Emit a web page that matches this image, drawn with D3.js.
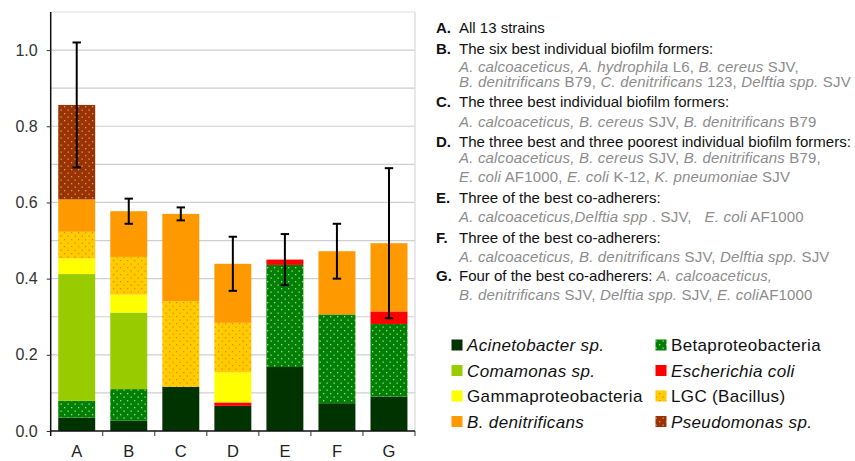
<!DOCTYPE html>
<html>
<head>
<meta charset="utf-8">
<script src="https://cdnjs.cloudflare.com/ajax/libs/d3/7.8.5/d3.min.js"></script>
<style>
  body { margin: 0; background: #fff; }
  svg text { font-family: "Liberation Sans", Arial, sans-serif; white-space: pre; }
</style>
</head>
<body>
<svg id="chart" width="855" height="461"></svg>
<script>
// groups on the x axis
let categories = ["A", "B", "C", "D", "E", "F", "G"];

// stacked segments, bottom to top
let seriesNames = ["Acinetobacter", "Betaproteobacteria", "Comamonas", "Escherichia coli",
    "Gammaproteobacteria", "LGC (Bacillus)", "B. denitrificans", "Pseudomonas"];
let acinetobacter = [0.035, 0.027, 0.116, 0.066, 0.168, 0.073, 0.090];
let betaproteo    = [0.044, 0.083, 0.000, 0.000, 0.268, 0.233, 0.191];
let comamonas     = [0.333, 0.201, 0.000, 0.000, 0.000, 0.000, 0.000];
let ecoli         = [0.000, 0.000, 0.000, 0.009, 0.014, 0.000, 0.033];
let gammaproteo   = [0.041, 0.047, 0.000, 0.079, 0.000, 0.000, 0.000];
let lgc           = [0.070, 0.099, 0.225, 0.130, 0.000, 0.000, 0.000];
let bdenitrif     = [0.085, 0.120, 0.229, 0.155, 0.000, 0.166, 0.179];
let pseudomonas   = [0.248, 0.000, 0.000, 0.000, 0.000, 0.000, 0.000];

// error (+/-) on the total of each bar
let errors = [0.164, 0.033, 0.017, 0.071, 0.067, 0.072, 0.197];

let yTicks = [0.0, 0.2, 0.4, 0.6, 0.8, 1.0];
let gridValues = [0.1, 0.2, 0.3, 0.4, 0.5, 0.6, 0.7, 0.8, 0.9, 1.0, 1.1];

// legend, two columns
let legendItems = [
    {key: "Acinetobacter", label: "Acinetobacter sp.", italic: true},
    {key: "Comamonas", label: "Comamonas sp.", italic: true},
    {key: "Gammaproteobacteria", label: "Gammaproteobacteria", italic: false},
    {key: "B. denitrificans", label: "B. denitrificans", italic: true},
    {key: "Betaproteobacteria", label: "Betaproteobacteria", italic: false},
    {key: "Escherichia coli", label: "Escherichia coli", italic: true},
    {key: "LGC (Bacillus)", label: "LGC (Bacillus)", italic: false},
    {key: "Pseudomonas", label: "Pseudomonas sp.", italic: true}
];

// description text: [letter, [ [text, style], ... ] ]  style: n = normal black, i = gray italic, g = gray normal
let notes = [
    ["A", [["All 13 strains", "n"]]],
    ["B", [["The six best individual biofilm formers:", "n"]]],
    ["", [["A. calcoaceticus, A. hydrophila", "i"], [" L6, ", "g"], ["B. cereus", "i"], [" SJV,", "g"]]],
    ["", [["B. denitrificans", "i"], [" B79, ", "g"], ["C. denitrificans", "i"], [" 123, ", "g"], ["Delftia spp.", "i"], [" SJV", "g"]]],
    ["C", [["The three best individual biofilm formers:", "n"]]],
    ["", [["A. calcoaceticus, B. cereus", "i"], [" SJV, ", "g"], ["B. denitrificans", "i"], [" B79", "g"]]],
    ["D", [["The three best and three poorest individual biofilm formers:", "n"]]],
    ["", [["A. calcoaceticus, B. cereus", "i"], [" SJV, ", "g"], ["B. denitrificans", "i"], [" B79,", "g"]]],
    ["", [["E. coli", "i"], [" AF1000, ", "g"], ["E. coli", "i"], [" K-12, ", "g"], ["K. pneumoniae", "i"], [" SJV", "g"]]],
    ["E", [["Three of the best co-adherers:", "n"]]],
    ["", [["A. calcoaceticus,Delftia spp", "i"], [" . SJV,   ", "g"], ["E. coli", "i"], [" AF1000", "g"]]],
    ["F", [["Three of the best co-adherers:", "n"]]],
    ["", [["A. calcoaceticus, B. denitrificans", "i"], [" SJV, ", "g"], ["Delftia spp.", "i"], [" SJV", "g"]]],
    ["G", [["Four of the best co-adherers: ", "n"], ["A. calcoaceticus,", "i"]]],
    ["", [["B. denitrificans", "i"], [" SJV, ", "g"], ["Delftia spp.", "i"], [" SJV, ", "g"], ["E. coli", "i"], ["AF1000", "g"]]]
];
let noteY = [28, 49, 66.5, 82, 101.5, 122, 141.5, 158, 176.5, 197.5, 216.5, 237.5, 256.5, 276, 295];

let seriesValues = [acinetobacter, betaproteo, comamonas, ecoli, gammaproteo, lgc, bdenitrif, pseudomonas];

// 颜色和填充
let fills = {
    "Acinetobacter": "#003300",
    "Betaproteobacteria": "url(#dotGreen)",
    "Comamonas": "#99cc00",
    "Escherichia coli": "#ff0000",
    "Gammaproteobacteria": "#ffff00",
    "LGC (Bacillus)": "url(#dotYellow)",
    "B. denitrificans": "#ff9900",
    "Pseudomonas": "url(#dotBrown)"
};

let svg = d3.select("#chart");

// dotted patterns
let defs = svg.append("defs");
let makePattern = function (id, bg, dot, opacity) {
    let p = defs.append("pattern")
        .attr("id", id)
        .attr("patternUnits", "userSpaceOnUse")
        .attr("width", 7).attr("height", 7);
    p.append("rect").attr("width", 7).attr("height", 7).attr("fill", bg);
    p.append("rect").attr("x", 1).attr("y", 1).attr("width", 1.3).attr("height", 1.3)
        .attr("fill", dot).attr("opacity", opacity);
    p.append("rect").attr("x", 4.5).attr("y", 4.5).attr("width", 1.3).attr("height", 1.3)
        .attr("fill", dot).attr("opacity", opacity);
};
makePattern("dotGreen", "#008000", "#ffffff", 0.65);
makePattern("dotYellow", "#ffcc00", "#ff6600", 0.75);
makePattern("dotBrown", "#993300", "#ffccaa", 0.65);

let plot = {left: 50.7, right: 415, top: 12, bottom: 431};

let x = d3.scaleBand()
    .domain(categories)
    .range([plot.left, plot.right])
    .paddingInner(0.29)
    .paddingOuter(0.145);

let y = d3.scaleLinear()
    .domain([0, 1.1])
    .range([plot.bottom, plot.top]);

// gridlines
svg.append("g").selectAll("line")
    .data(gridValues)
    .enter()
    .append("line")
    .attr("x1", plot.left).attr("x2", plot.right)
    .attr("y1", d => y(d)).attr("y2", d => y(d))
    .attr("stroke", d => d === 1.1 ? "#e2e2e2" : "#cfcfcf")
    .attr("stroke-width", 1.2);

svg.append("line")
    .attr("x1", plot.right).attr("x2", plot.right)
    .attr("y1", plot.top).attr("y2", plot.bottom)
    .attr("stroke", "#d8d8d8").attr("stroke-width", 1.2);

// stack data
let table = categories.map((c, i) => {
    let row = {cat: c};
    seriesNames.forEach((s, j) => { row[s] = seriesValues[j][i]; });
    return row;
});
let stacked = d3.stack().keys(seriesNames)(table);

svg.append("g").selectAll("g")
    .data(stacked)
    .enter()
    .append("g")
    .attr("fill", d => fills[d.key])
    .selectAll("rect")
    .data(d => d.filter(seg => seg[1] - seg[0] > 0))
    .enter()
    .append("rect")
    .attr("x", d => x(d.data.cat))
    .attr("width", x.bandwidth())
    .attr("y", d => y(d[1]))
    .attr("height", d => y(d[0]) - y(d[1]));

// error bars
let totals = categories.map((c, i) => d3.sum(seriesValues, s => s[i]));
let errG = svg.append("g").attr("stroke", "#000").attr("stroke-width", 2);
categories.forEach((c, i) => {
    let cx = x(c) + x.bandwidth() / 2;
    let hi = y(totals[i] + errors[i]);
    let lo = y(totals[i] - errors[i]);
    errG.append("line").attr("x1", cx).attr("x2", cx).attr("y1", hi).attr("y2", lo);
    errG.append("line").attr("x1", cx - 4.2).attr("x2", cx + 4.2).attr("y1", hi).attr("y2", hi);
    errG.append("line").attr("x1", cx - 4.2).attr("x2", cx + 4.2).attr("y1", lo).attr("y2", lo);
});

// y axis
let yAxis = svg.append("g")
    .attr("transform", "translate(" + plot.left + ",0)")
    .call(d3.axisLeft(y).tickValues(yTicks).tickFormat(d3.format(".1f")).tickSize(4).tickPadding(9));
yAxis.select(".domain").attr("d", "M0," + plot.top + "V" + plot.bottom).attr("stroke", "#111").attr("stroke-width", 1.5);
yAxis.selectAll(".tick line").attr("stroke", "#333");
yAxis.selectAll(".tick text").attr("font-size", 16).attr("fill", "#333");

// x axis, ticks between bands
let xAxis = svg.append("g")
    .attr("transform", "translate(0," + plot.bottom + ")");
xAxis.append("line")
    .attr("x1", plot.left).attr("x2", plot.right)
    .attr("stroke", "#111").attr("stroke-width", 1.5);
let step = x.step();
xAxis.selectAll(".sep")
    .data(categories)
    .enter()
    .append("line")
    .attr("x1", (d, i) => plot.left + step * (i + 1))
    .attr("x2", (d, i) => plot.left + step * (i + 1))
    .attr("y1", 0).attr("y2", 5)
    .attr("stroke", "#333").attr("stroke-width", 1);
xAxis.append("line").attr("x1", plot.left).attr("x2", plot.left).attr("y1", 0).attr("y2", 5)
    .attr("stroke", "#111").attr("stroke-width", 1.5);
xAxis.selectAll(".cat")
    .data(categories)
    .enter()
    .append("text")
    .attr("x", d => x(d) + x.bandwidth() / 2)
    .attr("y", 26)
    .attr("text-anchor", "middle")
    .attr("font-size", 16.5)
    .attr("fill", "#222")
    .text(d => d);

// notes on the right
let noteG = svg.append("g");
notes.forEach((n, i) => {
    if (n[0] !== "") {
        noteG.append("text")
            .attr("x", 436).attr("y", noteY[i] + 5)
            .attr("font-size", 15).attr("font-weight", "bold").attr("fill", "#111")
            .text(n[0] + ".");
    }
    let t = noteG.append("text")
        .attr("x", 459).attr("y", noteY[i] + 5)
        .attr("font-size", 15);
    n[1].forEach(part => {
        t.append("tspan")
            .attr("fill", part[1] === "n" ? "#111" : "#8c8c8c")
            .attr("font-style", part[1] === "i" ? "italic" : "normal")
            .attr("letter-spacing", part[1] === "n" ? 0 : 0.18)
            .text(part[0]);
    });
});

// legend
let legG = svg.append("g");
legendItems.forEach((it, i) => {
    let col = Math.floor(i / 4);
    let row = i % 4;
    let lx = col === 0 ? 451.5 : 655.5;
    let ly = 345 + row * 25.5;
    legG.append("rect")
        .attr("x", lx).attr("y", ly - 5.5)
        .attr("width", 11).attr("height", 11)
        .attr("fill", fills[it.key]);
    legG.append("text")
        .attr("x", lx + 15.5).attr("y", ly + 6)
        .attr("font-size", 17)
        .attr("letter-spacing", 0.35)
        .attr("font-style", it.italic ? "italic" : "normal")
        .attr("fill", "#111")
        .text(it.label);
});
</script>
</body>
</html>
